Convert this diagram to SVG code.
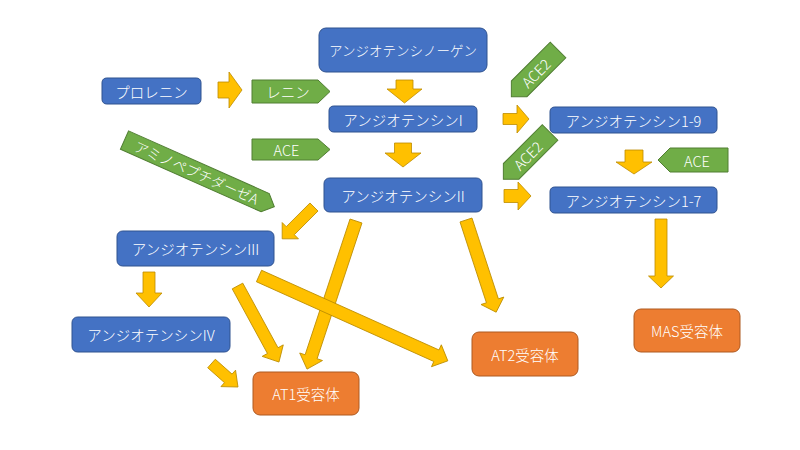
<svg xmlns="http://www.w3.org/2000/svg" width="800" height="450" viewBox="0 0 800 450">
<style>
.blue{fill:#4472C4;stroke:#2F528F;stroke-width:1}
.orange{fill:#ED7D31;stroke:#AE5A21;stroke-width:1}
.green{fill:#70AD47;stroke:#507E32;stroke-width:1}
.arrow{fill:#FFC000;stroke:#BC8C00;stroke-width:0.8;stroke-linejoin:miter}
text{font-family:"Noto Sans CJK JP","Noto Sans",sans-serif;font-weight:300;fill:#FFFFFF;text-anchor:middle;dominant-baseline:central;font-size:14.5px}
.sm{font-size:13.5px}
</style>
<rect width="800" height="450" fill="#FFFFFF"/>
<g id="connectors">
<polygon class="arrow" transform="translate(218,90)" points="0,-8 11,-8 11,-18 24,0 11,18 11,8 0,8"/>
<polygon class="arrow" transform="translate(404.5,80) rotate(90)" points="0,-8.5 9,-8.5 9,-17.5 23,0 9,17.5 9,8.5 0,8.5"/>
<polygon class="arrow" transform="translate(403,143) rotate(90)" points="0,-8.5 10,-8.5 10,-18 24,0 10,18 10,8.5 0,8.5"/>
<polygon class="arrow" transform="translate(503,119)" points="0,-5.5 14,-5.5 14,-14 26,0 14,14 14,5.5 0,5.5"/>
<polygon class="arrow" transform="translate(504,196)" points="0,-6.5 14,-6.5 14,-14 27,0 14,14 14,6.5 0,6.5"/>
<polygon class="arrow" transform="translate(634,150) rotate(90)" points="0,-9 12,-9 12,-18 24,0 12,18 12,9 0,9"/>
<polygon class="arrow" transform="translate(661,219) rotate(90)" points="0,-6 57,-6 57,-12.5 69,0 57,12.5 57,6 0,6"/>
<polygon class="arrow" transform="translate(466,220) rotate(71.9)" points="0,-6.3 85,-6.3 85,-12 97,0 85,12 85,6.3 0,6.3"/>
<polygon class="arrow" transform="translate(356,221) rotate(108.3)" points="0,-6.3 143,-6.3 143,-12 156,0 143,12 143,6.3 0,6.3"/>
<polygon class="arrow" transform="translate(314,207) rotate(135)" points="0,-5.7 33.5,-5.7 33.5,-11.5 45,0 33.5,11.5 33.5,5.7 0,5.7"/>
<polygon class="arrow" transform="translate(149,272) rotate(90)" points="0,-6 21,-6 21,-13 35,0 21,13 21,6 0,6"/>
<polygon class="arrow" transform="translate(237.5,286) rotate(61.4)" points="0,-6 73.6,-6 73.6,-12 86.6,0 73.6,12 73.6,6 0,6"/>
<polygon class="arrow" transform="translate(259,276) rotate(24.2)" points="0,-6.3 194.5,-6.3 194.5,-12 207,0 194.5,12 194.5,6.3 0,6.3"/>
<polygon class="arrow" transform="translate(211.5,363.5) rotate(41.6)" points="0,-5.7 22.4,-5.7 22.4,-11 35.4,0 22.4,11 22.4,5.7 0,5.7"/>
</g>
<g id="n-angiotensinogen"><rect class="blue" x="319" y="28" width="168" height="44" rx="7"/><text class="sm" x="403" y="50">アンジオテンシノーゲン</text></g>
<g id="n-prorenin"><rect class="blue" x="102" y="78" width="99" height="26" rx="4.5"/><text x="151.5" y="91">プロレニン</text></g>
<g id="n-ang1"><rect class="blue" x="329" y="106" width="148" height="26" rx="4.5"/><text x="403" y="119">アンジオテンシンI</text></g>
<g id="n-ang2"><rect class="blue" x="324" y="178" width="158" height="34" rx="5.5"/><text x="403" y="195">アンジオテンシンII</text></g>
<g id="n-ang3"><rect class="blue" x="117" y="231" width="157" height="35" rx="5.5"/><text x="195.5" y="248.5">アンジオテンシンIII</text></g>
<g id="n-ang4"><rect class="blue" x="72" y="317" width="158" height="35" rx="5.5"/><text x="151" y="334.5">アンジオテンシンIV</text></g>
<g id="n-ang19"><rect class="blue" x="550" y="107" width="167" height="26" rx="4.5"/><text x="633.5" y="120">アンジオテンシン1-9</text></g>
<g id="n-ang17"><rect class="blue" x="550" y="187" width="167" height="26" rx="4.5"/><text x="633.5" y="200">アンジオテンシン1-7</text></g>
<g id="n-at1"><rect class="orange" x="253" y="372" width="106" height="43" rx="7"/><text x="306" y="393.5">AT1受容体</text></g>
<g id="n-at2"><rect class="orange" x="472" y="332" width="106" height="44" rx="7"/><text x="525" y="354">AT2受容体</text></g>
<g id="n-mas"><rect class="orange" x="634" y="309" width="106" height="43" rx="7"/><text x="687" y="330.5">MAS受容体</text></g>
<g id="e-renin"><polygon class="green" points="252,80 318,80 330,91.5 318,103 252,103"/><text x="288" y="91.5">レニン</text></g>
<g id="e-ace1"><polygon class="green" points="252,139 318,139 330,149.5 318,160 252,160"/><text x="286.5" y="149.5">ACE</text></g>
<g id="e-ace2"><polygon class="green" points="728,148 670,148 658,160 670,172 728,172"/><text x="697" y="160">ACE</text></g>
<g id="e-ace2-a" transform="translate(534.7,73.3) rotate(-45)"><polygon class="green" points="-33,0 -22,-11 33,-11 33,11 -22,11"/><text x="1" y="0">ACE2</text></g>
<g id="e-ace2-b" transform="translate(526.7,155.8) rotate(-45)"><polygon class="green" points="-33,0 -22,-11 33,-11 33,11 -22,11"/><text x="1" y="0">ACE2</text></g>
<g id="e-apa" transform="translate(199.4,173.4) rotate(24)"><polygon class="green" points="-82,-10 72,-10 82,0 72,10 -82,10"/><text x="-3" y="0" style="font-size:14px">アミノペプチダーゼA</text></g>
</svg>
